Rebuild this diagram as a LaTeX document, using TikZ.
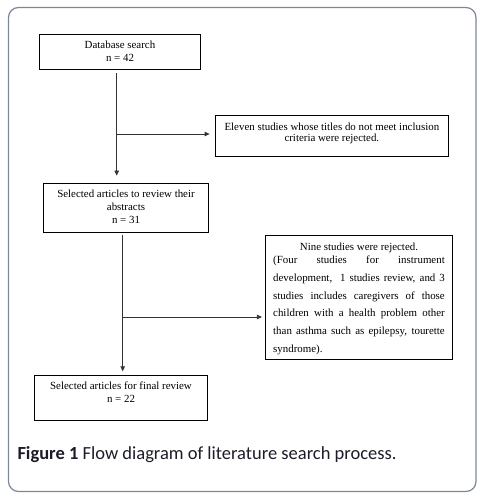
\documentclass[tikz,border=0pt]{standalone}
\usepackage{fontspec}
\setmainfont{Liberation Serif}
\newfontfamily\capfont{Carlito}
\usetikzlibrary{arrows.meta}
\definecolor{framecol}{HTML}{7D869B}
\definecolor{captxt}{HTML}{1C1C28}
\definecolor{conncol}{HTML}{333333}
\newcommand{\bxtext}[4]{\parbox[c][#2][t]{#1}{\centering\baselineskip=#3\relax\rule{0pt}{14.5pt}#4}}
\tikzset{
  flowbox/.style={draw=black, line width=0.8pt, inner sep=0pt, fill=white,
    font=\fontsize{10.9pt}{13pt}\selectfont},
  conn/.style={draw=conncol, line width=0.8pt, -{Triangle[length=5pt,width=4.5pt]}},
}
\begin{document}
\begin{tikzpicture}[x=1pt,y=-1pt]
\useasboundingbox (0,0) rectangle (486,502);
\draw[framecol, line width=1.2pt, rounded corners=10pt] (8.5,7.5) rectangle (476,491.5);

\node[flowbox] (b1) at (120,51.75) {\bxtext{161pt}{35.5pt}{13pt}{Database search\\ n = 42}};
\node[flowbox] (e) at (331.85,135.85) {\bxtext{233.7pt}{40.3pt}{11.3pt}{Eleven studies whose titles do not meet inclusion\\ criteria were rejected.}};
\node[flowbox] (b2) at (126,207.65) {\bxtext{165.4pt}{49.3pt}{13pt}{Selected articles to review their\\ abstracts\\ n = 31}};
\node[flowbox] (n9) at (359,297.5) {\bxtext{187.4pt}{123.6pt}{17.8pt}{Nine studies were rejected.\\[-4.5pt]
\makebox[171.6pt][s]{(Four studies for instrument}\\
\makebox[171.6pt][s]{development,\ \ 1 studies review, and 3}\\
\makebox[171.6pt][s]{studies includes caregivers of those}\\
\makebox[171.6pt][s]{children with a health problem other}\\
\makebox[171.6pt][s]{than asthma such as epilepsy, tourette}\\
\makebox[171.6pt][s]{syndrome).\hfill}}};
\node[flowbox] (b3) at (121,397.8) {\bxtext{172.6pt}{45pt}{13pt}{Selected articles for final review\\ n = 22}};

\coordinate (j1) at (116.7,134);
\coordinate (j2) at (122.7,317);

\draw[conn, shorten <=3.5pt, shorten >=7pt] (b1.south -| j1) -- (b2.north -| j1);
\draw[conn, shorten >=5pt] (j1) -- (e.west |- j1);
\draw[conn, shorten <=2pt, shorten >=3.6pt] (b2.south -| j2) -- (b3.north -| j2);
\draw[conn, shorten >=3pt] (j2) -- (n9.west |- j2);

\node[anchor=base west, inner sep=0pt, text=captxt, font=\capfont\fontsize{18.5pt}{21pt}\selectfont] (cap) at (17.3,459.3) {\textbf{Figure 1} Flow diagram of literature search process.};
\end{tikzpicture}
\end{document}
